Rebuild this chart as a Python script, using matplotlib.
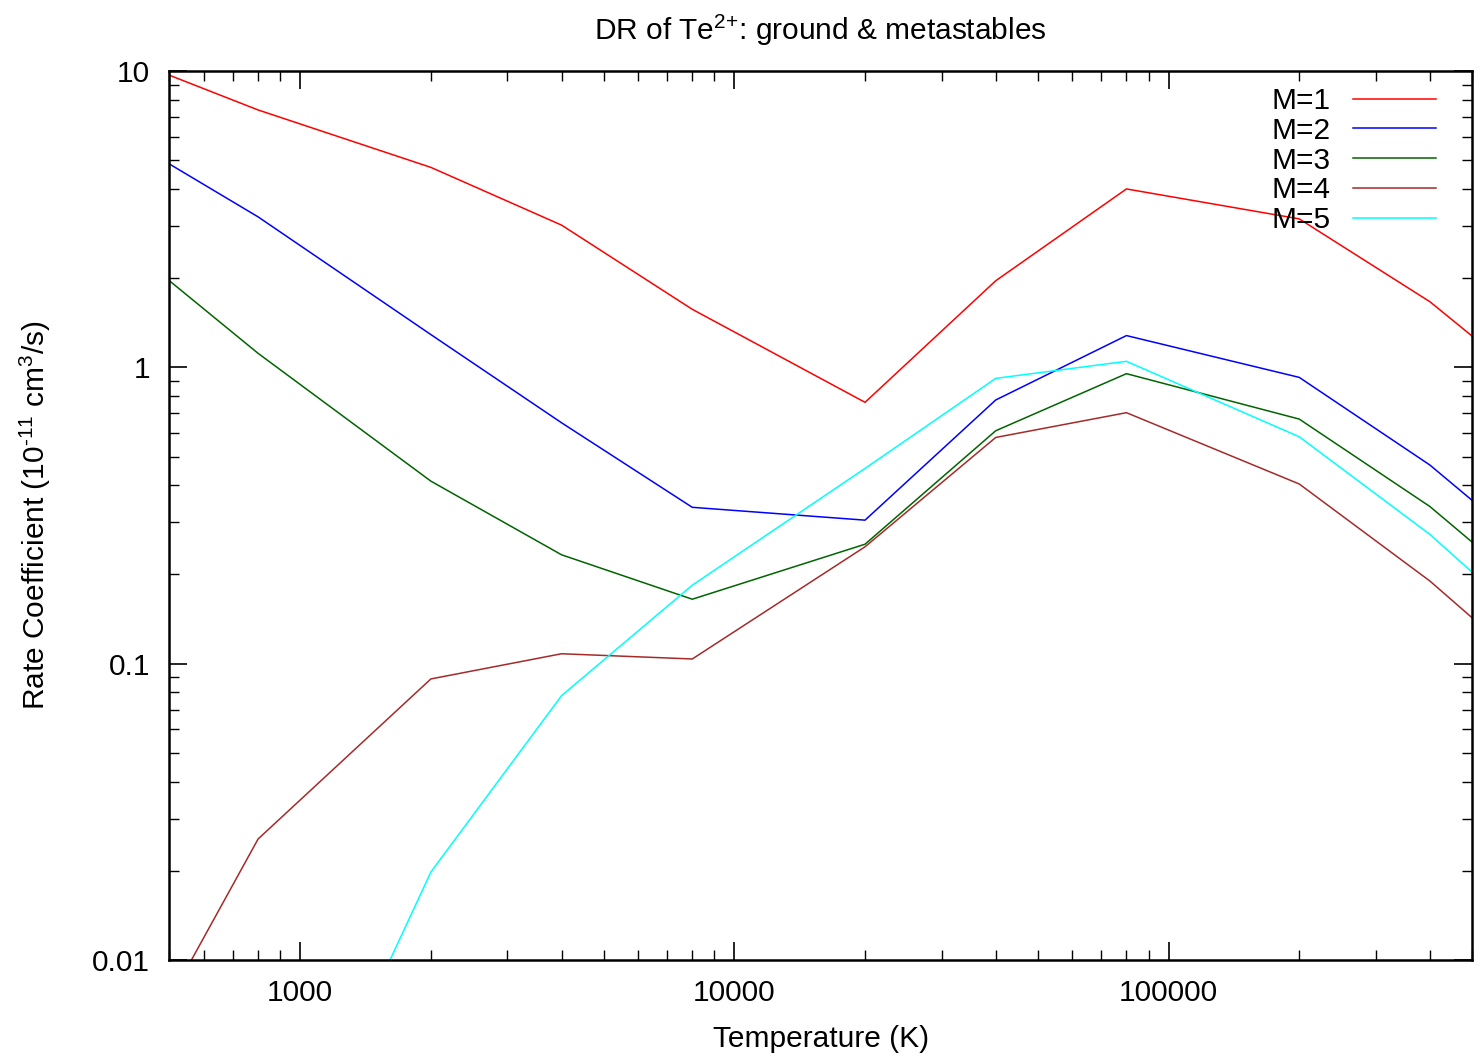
import matplotlib
matplotlib.use("Agg")
import matplotlib.pyplot as plt
from matplotlib.ticker import LogLocator, FixedLocator, FuncFormatter, NullFormatter

# --------------------------------------------------
# DATA  (rate coefficients in 1e-11 cm^3/s)
# --------------------------------------------------

temps = [400, 800, 2000, 4000, 8000, 20000, 40000, 80000, 200000, 400000, 800000]

m1 = [11.0, 7.39, 4.73, 3.02, 1.57, 0.762, 1.96, 4.00, 3.17, 1.665, 0.728]
m2 = [5.9, 3.22, 1.29, 0.65, 0.337, 0.305, 0.776, 1.28, 0.925, 0.468, 0.200]
m3 = [2.56, 1.115, 0.413, 0.233, 0.165, 0.253, 0.611, 0.952, 0.669, 0.339, 0.144]
m4 = [0.00405, 0.0256, 0.0888, 0.108, 0.1037, 0.248, 0.580, 0.703, 0.404, 0.190, 0.0785]
m5 = [0.00002, 0.0011, 0.0198, 0.078, 0.184, 0.456, 0.918, 1.048, 0.583, 0.273, 0.110]

labels = ["M=1", "M=2", "M=3", "M=4", "M=5"]
colors = ["#ff0000", "#0000ff", "#006400", "#a52a2a", "#00ffff"]

# --------------------------------------------------
# PLOT
# --------------------------------------------------

plt.rcParams["font.family"] = ["Liberation Sans", "DejaVu Sans"]
plt.rcParams["mathtext.fontset"] = "custom"
plt.rcParams["mathtext.rm"] = "Liberation Sans"
plt.rcParams["mathtext.default"] = "regular"

fs = 21.5

fig = plt.figure(figsize=(14.8, 10.57), dpi=100)
ax = fig.add_axes([0.1145, 0.0918, 0.8801, 0.8410])

series = [m1, m2, m3, m4, m5]
for i in range(len(series)):
    ax.plot(temps, series[i], color=colors[i], lw=1.1, label=labels[i])

ax.set_xscale("log")
ax.set_yscale("log")
ax.set_xlim(500, 500000)
ax.set_ylim(0.01, 10)

ax.xaxis.set_major_locator(FixedLocator([1000, 10000, 100000]))
ax.xaxis.set_minor_locator(LogLocator(base=10, subs=range(2, 10), numticks=20))
ax.yaxis.set_major_locator(FixedLocator([0.01, 0.1, 1, 10]))
ax.yaxis.set_minor_locator(LogLocator(base=10, subs=range(2, 10), numticks=20))
ax.xaxis.set_major_formatter(FuncFormatter(lambda v, p: "%d" % round(v)))
ax.yaxis.set_major_formatter(FuncFormatter(lambda v, p: "%g" % v))
ax.xaxis.set_minor_formatter(NullFormatter())
ax.yaxis.set_minor_formatter(NullFormatter())

ax.tick_params(which="both", direction="in", top=True, right=True, labelsize=fs)
ax.tick_params(which="major", length=13, width=1.2)
ax.tick_params(axis="x", which="major", pad=14)
ax.tick_params(axis="y", which="major", pad=14)
ax.tick_params(which="minor", length=7, width=1.0)
for sp in ax.spines.values():
    sp.set_linewidth(1.8)

ax.set_title(r"DR of Te$^{\text{2+}}$: ground & metastables", fontsize=fs, pad=22)
ax.set_xlabel("Temperature (K)", fontsize=fs, labelpad=13)
ax.set_ylabel(r"Rate Coefficient (10$^{\text{-11}}$ cm$^{\text{3}}$/s)", fontsize=fs, labelpad=28)

ax.legend(loc="upper right", bbox_to_anchor=(0.9725, 0.982), frameon=False,
          markerfirst=False, fontsize=fs, handlelength=2.8,
          labelspacing=0.06, handletextpad=0.75, borderaxespad=0.0, borderpad=0.0)

fig.savefig("out.png", dpi=100)
